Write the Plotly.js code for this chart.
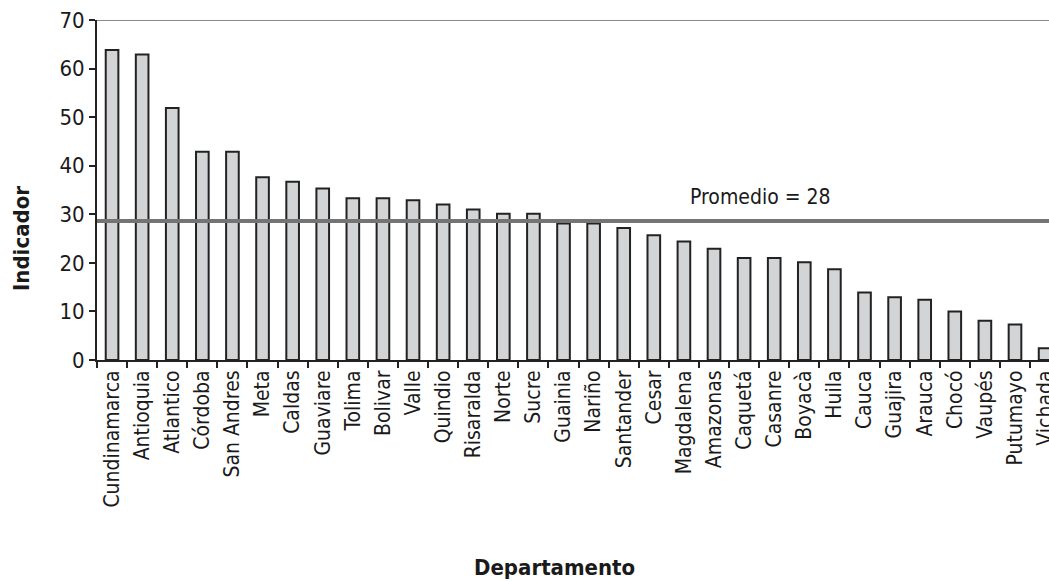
<!DOCTYPE html>
<html>
<head>
<meta charset="utf-8">
<script src="https://cdn.plot.ly/plotly-3.0.1.min.js"></script>
<style>html,body{margin:0;padding:0;background:#fff;}#chart{width:1049px;height:581px;}</style>
</head>
<body>
<div id="chart"></div>
<script>
const departamentos = ["Cundinamarca","Antioquia","Atlantico","Córdoba","San Andres","Meta","Caldas","Guaviare","Tolima","Bolivar","Valle","Quindio","Risaralda","Norte","Sucre","Guainia","Nariño","Santander","Cesar","Magdalena","Amazonas","Caquetá","Casanre","Boyacà","Huila","Cauca","Guajira","Arauca","Chocó","Vaupés","Putumayo","Vichada"];
const indicador = [63.8,62.9,51.9,42.9,42.9,37.6,36.7,35.3,33.3,33.3,32.9,32.0,31.0,30.1,30.1,28.1,28.1,27.2,25.7,24.4,22.9,21.0,21.0,20.1,18.7,13.9,12.9,12.4,10.0,8.1,7.3,2.4];
const promedioLinea = 28.6;
const promedioTexto = "Promedio = 28";
const yTicks = [0,10,20,30,40,50,60,70];

const FONT = "'Liberation Sans Narrow', 'DejaVu Sans Condensed', 'Roboto Condensed', Arial, sans-serif";

const data = [{
  type: "bar",
  x: departamentos,
  y: indicador,
  width: 0.42,
  marker: {color: "#d3d4d6", line: {color: "#222222", width: 2}},
  hoverinfo: "x+y"
}];

const layout = {
  width: 1049, height: 581,
  margin: {l: 97, r: 0, t: 20, b: 221, pad: 0},
  paper_bgcolor: "#fff", plot_bgcolor: "#fff",
  showlegend: false,
  font: {family: FONT, color: "#1a1a1a", size: 18},
  xaxis: {
    type: "category",
    range: [-0.5, 31.13],
    tickson: "boundaries",
    ticks: "outside", ticklen: 6, tickwidth: 2, tickcolor: "#222",
    showline: true, linecolor: "#222", linewidth: 2,
    tickangle: -90,
    tickfont: {family: FONT, size: 21, color: "#1a1a1a"},
    showgrid: false, zeroline: false, fixedrange: true
  },
  yaxis: {
    range: [0, 70],
    tickvals: yTicks,
    ticks: "outside", ticklen: 6, tickwidth: 2, tickcolor: "#222",
    showline: true, linecolor: "#222", linewidth: 2,
    tickfont: {family: FONT, size: 22, color: "#1a1a1a"},
    showgrid: false, zeroline: false, fixedrange: true
  },
  shapes: [
    {type: "line", xref: "paper", yref: "y", x0: 0, x1: 1, y0: 70, y1: 70, line: {color: "#8a8a8a", width: 2}},
    {type: "line", xref: "paper", yref: "y", x0: 0, x1: 1, y0: promedioLinea, y1: promedioLinea, line: {color: "#747474", width: 4}}
  ],
  annotations: [
    {text: promedioTexto, xref: "paper", yref: "y", x: (688-97)/952, y: 33.6, xanchor: "left", yanchor: "middle", showarrow: false, font: {family: FONT, size: 21, color: "#1a1a1a"}},
    {text: "<b>Departamento</b>", xref: "paper", yref: "paper", x: (554-97)/952, y: (360-567)/340, xanchor: "center", yanchor: "middle", showarrow: false, font: {family: FONT, size: 22, color: "#1a1a1a"}},
    {text: "<b>Indicador</b>", xref: "paper", yref: "paper", x: (22-97)/952, y: (360-239)/340, xanchor: "center", yanchor: "middle", textangle: -90, showarrow: false, font: {family: FONT, size: 22, color: "#1a1a1a"}}
  ]
};

Plotly.newPlot("chart", data, layout, {displayModeBar: false, staticPlot: true});
</script>
</body>
</html>
